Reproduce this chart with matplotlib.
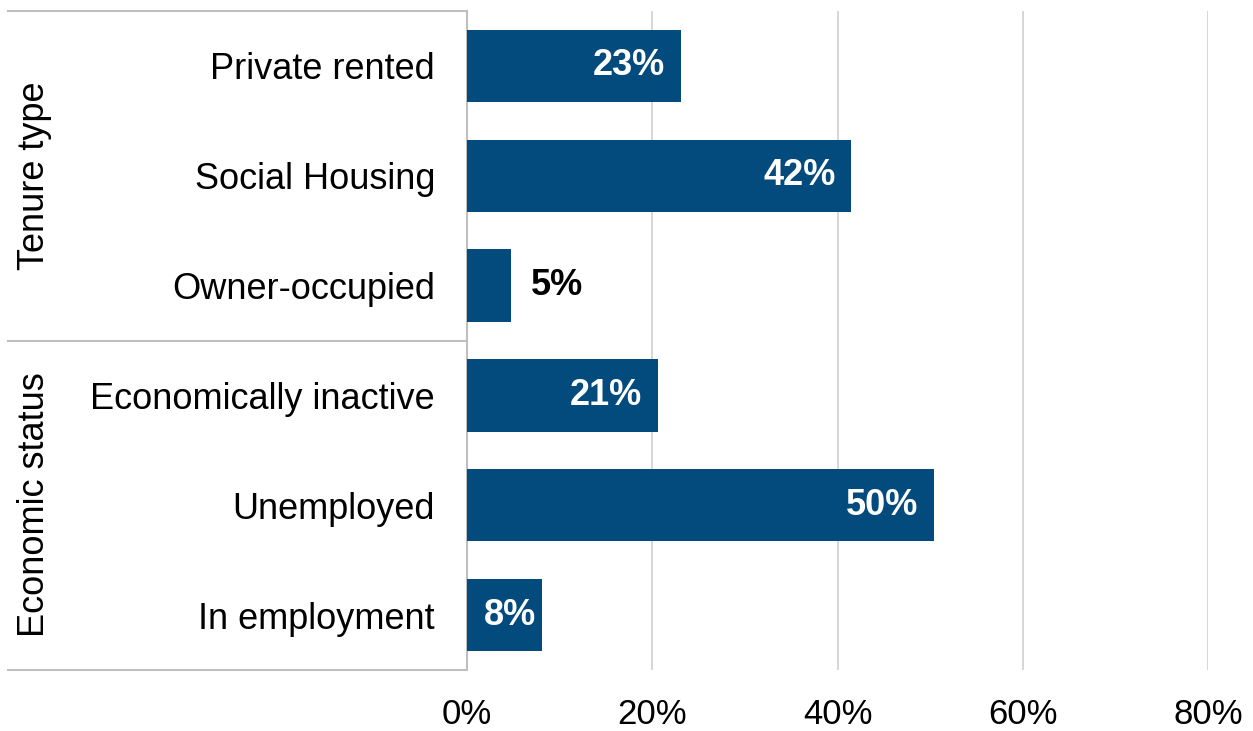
import matplotlib
matplotlib.use("Agg")
import matplotlib.pyplot as plt
from matplotlib.lines import Line2D

categories = ["Private rented", "Social Housing", "Owner-occupied",
              "Economically inactive", "Unemployed", "In employment"]
values = [23.1, 41.5, 4.8, 20.6, 50.4, 8.1]
labels = ["23%", "42%", "5%", "21%", "50%", "8%"]
groups = ["Tenure type", "Economic status"]
xticks = [0, 20, 40, 60, 80]
xticklabels = ["0%", "20%", "40%", "60%", "80%"]

plt.rcParams['font.family'] = ['Liberation Sans', 'DejaVu Sans']
fig = plt.figure(figsize=(12.53, 7.31), dpi=100)
L, R, T, B = 467/1253, 1208/1253, 1 - 11/731, 1 - 670/731
ax = fig.add_axes([L, B, R - L, T - B])

n = len(categories)
ypos = list(range(n))
color = "#034a7d"
fs = 26
ax.barh(ypos, values, height=0.66, color=color, zorder=3)
ax.set_ylim(n - 0.5, -0.5)
ax.set_xlim(0, 80)
ax.set_xticks(xticks)
ax.set_xticklabels(xticklabels, fontsize=25)
ax.tick_params(axis='x', length=0, pad=20)
ax.set_yticks(ypos)
ax.set_yticklabels(categories, fontsize=fs)
ax.tick_params(axis='y', length=0, pad=23)
ax.xaxis.grid(True, color="#d0d0d0", linewidth=1.2, zorder=0)
ax.set_axisbelow(True)
for s in ["top", "right", "bottom"]:
    ax.spines[s].set_visible(False)
ax.spines["left"].set_color("#bfbfbf")
ax.spines["left"].set_linewidth(1.5)

for y, v, lab in zip(ypos, values, labels):
    if v > 7:
        off = 1.7 if v > 12 else 0.6
        ax.text(v - off, y, lab, ha="right", va="center", color="white",
                fontsize=fs, fontweight="bold", zorder=4)
    else:
        ax.text(v + 2.1, y, lab, ha="left", va="center", color="black",
                fontsize=fs, fontweight="bold", zorder=4)

# group box lines
x0 = 8/1253
for yy in [11, 341, 670]:
    fy = 1 - yy/731
    fig.add_artist(Line2D([x0, L], [fy, fy], color="#bfbfbf", linewidth=1.5,
                          transform=fig.transFigure))

fig.text(35/1253, 1 - 176/731, groups[0], rotation=90, ha="center", va="center", fontsize=fs)
fig.text(35/1253, 1 - 505/731, groups[1], rotation=90, ha="center", va="center", fontsize=fs)

fig.savefig("out.png", dpi=100)
